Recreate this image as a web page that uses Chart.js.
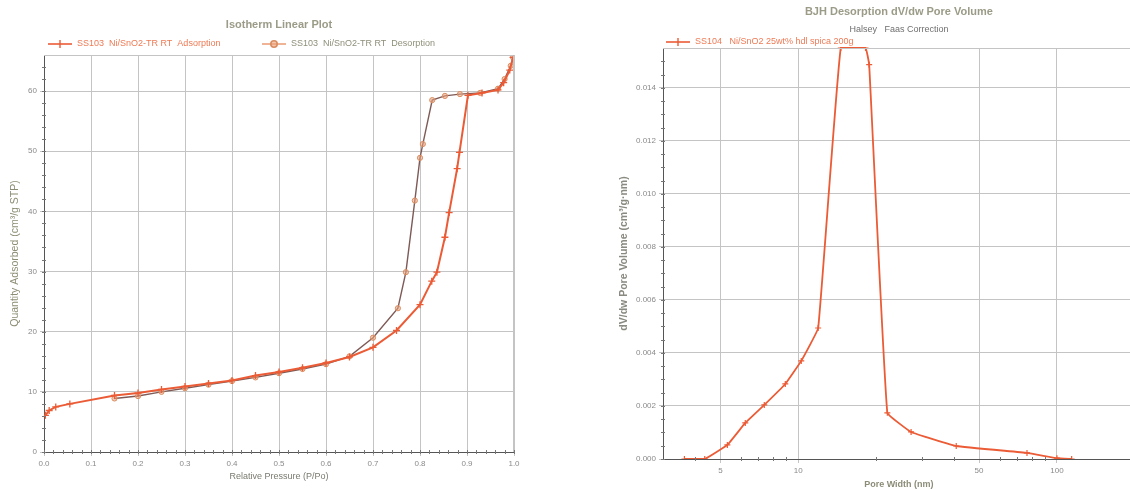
<!DOCTYPE html>
<html>
<head>
<meta charset="utf-8">
<script src="https://cdn.jsdelivr.net/npm/chart.js@4.4.1/dist/chart.umd.min.js"></script>
<style>
  html, body { margin: 0; padding: 0; background: #fff; overflow: hidden; }
  #left { position: absolute; left: 0; top: 0; }
  #right { position: absolute; left: 600px; top: 0; }
</style>
</head>
<body>
<canvas id="left" width="560" height="490"></canvas>
<canvas id="right" width="540" height="490"></canvas>
<script>
// isotherm - adsorption branch (P/Po, cm3/g STP)
const adsP = [0.003, 0.011, 0.025, 0.055, 0.15, 0.20, 0.25, 0.30, 0.35, 0.40, 0.45, 0.50, 0.55, 0.60, 0.65,
  0.70, 0.75, 0.80, 0.825, 0.836, 0.853, 0.862, 0.879, 0.884, 0.902, 0.932, 0.966, 0.978, 0.991, 0.998];
const adsQ = [6.1, 6.9, 7.5, 8.0, 9.4, 9.8, 10.4, 10.9, 11.4, 11.9, 12.7, 13.3, 14.0, 14.8, 15.8,
  17.4, 20.2, 24.5, 28.4, 29.9, 35.7, 39.8, 47.1, 49.8, 59.3, 59.7, 60.2, 61.4, 63.5, 65.6];

// isotherm - desorption branch
const desP = [0.998, 0.993, 0.98, 0.966, 0.928, 0.885, 0.853, 0.826, 0.806, 0.80, 0.789, 0.77, 0.753,
  0.70, 0.65, 0.60, 0.55, 0.50, 0.45, 0.40, 0.35, 0.30, 0.25, 0.20, 0.15];
const desQ = [65.6, 64.2, 62.0, 60.4, 59.7, 59.5, 59.2, 58.5, 51.2, 48.9, 41.8, 29.9, 23.9,
  19.0, 15.9, 14.6, 13.8, 13.1, 12.4, 11.8, 11.2, 10.6, 10.0, 9.3, 8.9];

// BJH desorption dV/dw (pore width nm, cm3/g.nm)
const poreW = [3.63, 4.35, 5.32, 6.24, 7.39, 8.91, 10.27, 11.94, 14.6, 18.2, 18.8, 22.1, 27.3, 40.8, 76.6, 100, 114];
const poreV = [0, 0, 0.00053, 0.00136, 0.00204, 0.00283, 0.0037, 0.00494, 0.0155, 0.0155, 0.01487,
  0.00174, 0.00102, 0.00049, 0.00023, 0.00003, 0];

const poreTicks = [5, 10, 50, 100];
const poreMinor = [4, 6, 7, 8, 9, 20, 30, 40, 60, 70, 80, 90];

const FONT = '"Liberation Sans", Arial, sans-serif';
const RED = '#eb5b35';
const GRID = '#c4c4c4';
const AXIS = '#555';
const TICK = '#8a8a8a';
Chart.defaults.font.family = FONT;

// titles, legend rows, minor ticks and plot frame
const deco = {
  id: 'deco',
  afterDraw(chart, args, o) {
    const ctx = chart.ctx, a = chart.chartArea;
    ctx.save();
    ctx.strokeStyle = GRID;
    ctx.lineWidth = 1;
    ctx.beginPath();
    ctx.moveTo(a.left, a.top + 0.5); ctx.lineTo(a.right - 0.5, a.top + 0.5); ctx.lineTo(a.right - 0.5, a.bottom);
    ctx.stroke();

    // minor ticks
    ctx.strokeStyle = '#777';
    const xs = chart.scales.x, ys = chart.scales.y;
    (o.minorX || []).forEach(v => {
      const px = Math.round(xs.getPixelForValue(v)) + 0.5;
      ctx.beginPath(); ctx.moveTo(px, a.bottom - 2); ctx.lineTo(px, a.bottom + 2); ctx.stroke();
    });
    (o.minorY || []).forEach(v => {
      const py = Math.round(ys.getPixelForValue(v)) + 0.5;
      ctx.beginPath(); ctx.moveTo(a.left - 2, py); ctx.lineTo(a.left + 2, py); ctx.stroke();
    });

    ctx.textBaseline = 'middle';
    const cx = (a.left + a.right) / 2;
    if (o.title) {
      ctx.font = 'bold 11px ' + FONT;
      ctx.fillStyle = '#9b9b88';
      ctx.textAlign = 'center';
      ctx.fillText(o.title, cx, o.titleY);
    }
    if (o.subtitle) {
      ctx.font = '9px ' + FONT;
      ctx.fillStyle = '#6f6f6f';
      ctx.textAlign = 'center';
      ctx.fillText(o.subtitle, cx, o.subtitleY);
    }
    (o.legend || []).forEach(it => {
      ctx.strokeStyle = it.line;
      ctx.lineWidth = 1.6;
      ctx.beginPath(); ctx.moveTo(it.x, it.y); ctx.lineTo(it.x + 24, it.y); ctx.stroke();
      const mx = it.x + 12;
      if (it.marker === 'circle') {
        ctx.fillStyle = 'rgba(236,160,120,0.6)';
        ctx.strokeStyle = '#d98d62';
        ctx.beginPath(); ctx.arc(mx, it.y, 3.2, 0, Math.PI * 2); ctx.fill(); ctx.stroke();
      } else {
        ctx.lineWidth = 1.4;
        ctx.beginPath(); ctx.moveTo(mx, it.y - 4); ctx.lineTo(mx, it.y + 4); ctx.stroke();
      }
      ctx.font = '9px ' + FONT;
      ctx.fillStyle = it.color;
      ctx.textAlign = 'left';
      ctx.fillText(it.text, it.x + 29, it.y);
    });
    ctx.restore();
  }
};

const tickFont = { size: 8 };

new Chart(document.getElementById('left'), {
  type: 'scatter',
  data: {
    datasets: [
      {
        label: 'SS103  Ni/SnO2-TR RT  Adsorption',
        data: adsP.map((p, i) => ({ x: p, y: adsQ[i] })),
        showLine: true,
        borderColor: RED,
        backgroundColor: RED,
        borderWidth: 2,
        pointStyle: 'cross',
        pointRadius: 3.5,
        pointBorderWidth: 1.3
      },
      {
        label: 'SS103  Ni/SnO2-TR RT  Desorption',
        data: desP.map((p, i) => ({ x: p, y: desQ[i] })),
        showLine: true,
        borderColor: '#7e5a56',
        borderWidth: 1.4,
        pointStyle: 'circle',
        pointRadius: 2.6,
        pointBackgroundColor: 'rgba(236,160,120,0.55)',
        pointBorderColor: '#d98d62',
        pointBorderWidth: 1
      }
    ]
  },
  options: {
    responsive: false,
    animation: false,
    events: [],
    layout: { padding: { top: 55, right: 46, left: 0, bottom: 0 } },
    plugins: {
      legend: { display: false },
      tooltip: { enabled: false },
      deco: {
        title: 'Isotherm Linear Plot', titleY: 25,
        legend: [
          { x: 48, y: 44, text: 'SS103  Ni/SnO2-TR RT  Adsorption', line: RED, marker: 'cross', color: '#ee7a55' },
          { x: 262, y: 44, text: 'SS103  Ni/SnO2-TR RT  Desorption', line: '#eba17c', marker: 'circle', color: '#8f8f7a' }
        ],
        minorX: Array.from({ length: 51 }, (_, i) => i * 0.02),
        minorY: Array.from({ length: 33 }, (_, i) => i * 2)
      }
    },
    scales: {
      x: {
        type: 'linear', min: 0, max: 1,
        ticks: { stepSize: 0.1, includeBounds: false, callback: v => v.toFixed(1), color: TICK, font: tickFont, padding: 3, maxRotation: 0 },
        grid: { color: GRID, tickLength: 4 },
        border: { color: AXIS },
        title: { display: true, text: 'Relative Pressure (P/Po)', color: '#7a7a70', font: { size: 9 }, padding: { top: 0, bottom: 8 } },
        afterFit: s => { s.height = 38; }
      },
      y: {
        min: 0, max: 66,
        ticks: { stepSize: 10, includeBounds: false, color: TICK, font: tickFont, padding: 3 },
        grid: { color: GRID, tickLength: 4 },
        border: { color: AXIS },
        title: { display: true, text: 'Quantity Adsorbed (cm³/g STP)', color: '#8d8d75', font: { size: 10.5 }, padding: { top: 9, bottom: 0 } },
        afterFit: s => { s.width = 44; }
      }
    }
  },
  plugins: [deco]
});

new Chart(document.getElementById('right'), {
  type: 'scatter',
  data: {
    datasets: [
      {
        label: 'SS104  Ni/SnO2 25wt% hdl spica 200g',
        data: poreW.map((w, i) => ({ x: w, y: poreV[i] })),
        showLine: true,
        tension: 0.08,
        clip: { left: 0, top: 1, right: 0, bottom: 0 },
        borderColor: RED,
        backgroundColor: RED,
        borderWidth: 1.8,
        pointStyle: 'cross',
        pointRadius: 3,
        pointBorderWidth: 1.2
      }
    ]
  },
  options: {
    responsive: false,
    animation: false,
    events: [],
    layout: { padding: { top: 48, right: 4, left: 0, bottom: 0 } },
    plugins: {
      legend: { display: false },
      tooltip: { enabled: false },
      deco: {
        title: 'BJH Desorption dV/dw Pore Volume', titleY: 12,
        subtitle: 'Halsey   Faas Correction', subtitleY: 30,
        legend: [
          { x: 66, y: 42, text: 'SS104   Ni/SnO2 25wt% hdl spica 200g', line: RED, marker: 'cross', color: '#ee7a55' }
        ],
        minorX: poreMinor,
        minorY: Array.from({ length: 31 }, (_, i) => i * 0.0005)
      }
    },
    scales: {
      x: {
        type: 'logarithmic', min: 3, max: 200,
        afterBuildTicks: s => { s.ticks = poreTicks.map(v => ({ value: v })); },
        ticks: { callback: v => String(v), color: TICK, font: tickFont, padding: 3, maxRotation: 0, autoSkip: false },
        grid: { color: GRID, tickLength: 4 },
        border: { color: AXIS },
        title: { display: true, text: 'Pore Width (nm)', color: '#8c8c78', font: { size: 9, weight: 'bold' }, padding: { top: 0, bottom: 0 } },
        afterFit: s => { s.height = 31; }
      },
      y: {
        min: 0, max: 0.0155,
        ticks: { stepSize: 0.002, includeBounds: false, callback: v => v.toFixed(3), color: TICK, font: tickFont, padding: 3 },
        grid: { color: GRID, tickLength: 4 },
        border: { color: AXIS },
        title: { display: true, text: 'dV/dw Pore Volume (cm³/g·nm)', color: '#8a8a80', font: { size: 10.5, weight: 'bold' }, padding: { top: 18, bottom: 0 } },
        afterFit: s => { s.width = 63; }
      }
    }
  },
  plugins: [deco]
});
</script>
</body>
</html>
